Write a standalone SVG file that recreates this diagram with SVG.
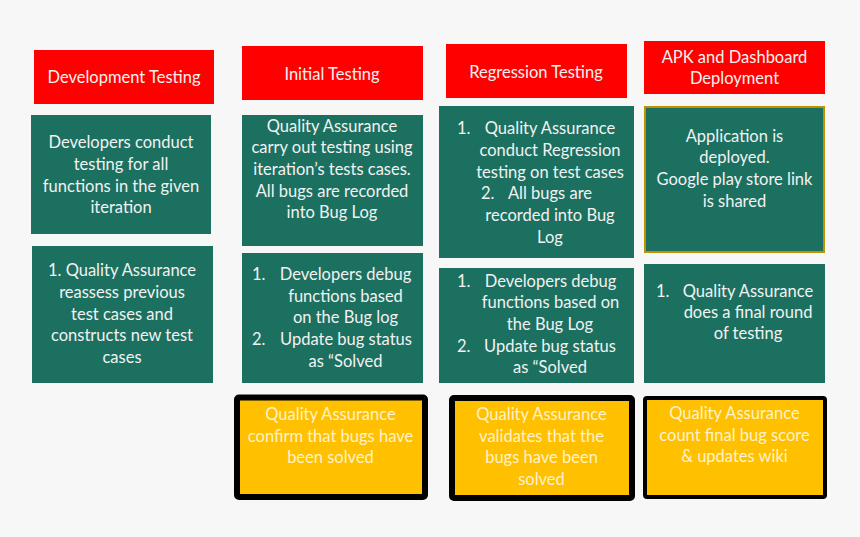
<svg xmlns="http://www.w3.org/2000/svg" width="860" height="537" viewBox="0 0 860 537">
<style>
text{font-family:"Lato","Liberation Sans",sans-serif;font-size:16.5px;text-anchor:middle}
.hd rect{fill:#ff0000}
.hd text{fill:#f2f2f2}
.gr rect{fill:#1b7060}
.gr text{fill:#f2f2f2}
.yl rect{fill:#ffc000;stroke:#000;stroke-width:6}
.yl text{fill:#fff2cc}
.st{text-anchor:start}
</style>
<rect width="860" height="537" fill="#f7f7f7"/>
<g id="h1" class="hd"><rect x="34" y="50" width="180" height="54"/><text x="124" y="83">Development Testing</text></g>
<g id="h2" class="hd"><rect x="242" y="46" width="181" height="54"/><text x="332" y="80">Initial Testing</text></g>
<g id="h3" class="hd"><rect x="446" y="44" width="181" height="54"/><text x="536" y="78">Regression Testing</text></g>
<g id="h4" class="hd"><rect x="644" y="41" width="181" height="53"/><text x="734.5" y="63">APK and Dashboard</text><text x="734.5" y="84">Deployment</text></g>

<g id="g11" class="gr"><rect x="31" y="115" width="180" height="119"/>
<text x="121" y="148">Developers conduct</text><text x="121" y="170">testing for all</text><text x="121" y="192">functions in the given</text><text x="121" y="213">iteration</text></g>
<g id="g12" class="gr"><rect x="32" y="246" width="181" height="137"/>
<text x="122" y="276">1. Quality Assurance</text><text x="122" y="298">reassess previous</text><text x="122" y="320">test cases and</text><text x="122" y="341">constructs new test</text><text x="122" y="363">cases</text></g>

<g id="g21" class="gr"><rect x="242" y="115" width="181" height="131"/>
<text x="332" y="132">Quality Assurance</text><text x="332" y="153">carry out testing using</text><text x="332" y="175">iteration’s tests cases.</text><text x="332" y="197">All bugs are recorded</text><text x="332" y="218">into Bug Log</text></g>
<g id="g22" class="gr"><rect x="242" y="253" width="181" height="130"/>
<text class="st" x="252" y="280">1.</text><text x="345.5" y="280">Developers debug</text><text x="345.5" y="302">functions based</text><text x="345.5" y="323">on the Bug log</text>
<text class="st" x="252" y="345">2.</text><text x="346" y="345">Update bug status</text><text x="345.5" y="367">as “Solved</text></g>
<g id="y2" class="yl"><rect x="237" y="397.5" width="188" height="99.5" rx="2"/>
<text x="330.5" y="420">Quality Assurance</text><text x="330.5" y="442">confirm that bugs have</text><text x="330.5" y="463">been solved</text></g>

<g id="g31" class="gr"><rect x="439" y="106" width="195" height="152"/>
<text class="st" x="457" y="134">1.</text><text x="550" y="134">Quality Assurance</text><text x="550" y="156">conduct Regression</text><text x="550" y="178">testing on test cases</text>
<text class="st" x="481" y="199">2.</text><text x="550" y="199">All bugs are</text><text x="550" y="221">recorded into Bug</text><text x="550" y="243">Log</text></g>
<g id="g32" class="gr"><rect x="439" y="268" width="195" height="115"/>
<text class="st" x="457" y="287">1.</text><text x="550.5" y="287">Developers debug</text><text x="550.5" y="308">functions based on</text><text x="550" y="330">the Bug Log</text>
<text class="st" x="457" y="352">2.</text><text x="550" y="352">Update bug status</text><text x="550" y="373">as “Solved</text></g>
<g id="y3" class="yl"><rect x="452" y="398" width="180" height="100" rx="2"/>
<text x="541.5" y="420">Quality Assurance</text><text x="541.5" y="442">validates that the</text><text x="541.5" y="463">bugs have been</text><text x="541.5" y="485">solved</text></g>

<g id="g41" class="gr"><rect x="645" y="107" width="179" height="145" stroke="#bf9000" stroke-width="2"/>
<text x="734.5" y="142">Application is</text><text x="734.5" y="163">deployed.</text><text x="734.5" y="185">Google play store link</text><text x="734.5" y="207">is shared</text></g>
<g id="g42" class="gr"><rect x="644" y="264" width="181" height="119"/>
<text class="st" x="656" y="297">1.</text><text x="748" y="297">Quality Assurance</text><text x="748" y="318">does a final round</text><text x="748" y="339">of testing</text></g>
<g id="y4" class="yl"><rect x="645" y="398" width="180" height="99" rx="2" style="stroke-width:4"/>
<text x="734.5" y="419">Quality Assurance</text><text x="734.5" y="441">count final bug score</text><text x="734.5" y="462">&amp; updates wiki</text></g>
</svg>
